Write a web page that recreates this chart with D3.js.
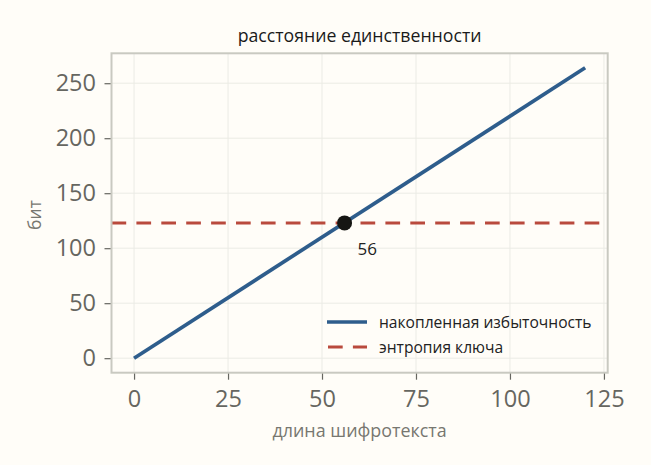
<!DOCTYPE html>
<html>
<head>
<meta charset="utf-8">
<script src="https://cdn.jsdelivr.net/npm/d3@7"></script>
<style>
  body { margin: 0; background: #fffdf8; }
  text { font-family: "Open Sans", "Noto Sans", sans-serif; }
</style>
</head>
<body>
<div id="chart"></div>
<script>
// data
const textLength = [0, 120];
const redundancyBits = [0, 264];
const keyEntropy = 123;
const unicityPoint = 56;
const xTicks = [0, 25, 50, 75, 100, 125];
const yTicks = [0, 50, 100, 150, 200, 250];
const legendLabels = ["накопленная избыточность", "энтропия ключа"];

const width = 651, height = 465;
const plot = {left: 111.5, right: 607.7, top: 53.3, bottom: 372.7};

const svg = d3.select("#chart")
    .append("svg")
    .attr("width", width)
    .attr("height", height);

svg.append("rect")
    .attr("width", width)
    .attr("height", height)
    .attr("fill", "#fffdf8");

const x = d3.scaleLinear().domain([-6, 126]).range([plot.left, plot.right]);
const y = d3.scaleLinear().domain([-13.2, 277.2]).range([plot.bottom, plot.top]);

// grid
svg.append("g").selectAll("line")
    .data(xTicks)
    .enter().append("line")
    .attr("x1", d => x(d)).attr("x2", d => x(d))
    .attr("y1", plot.top).attr("y2", plot.bottom)
    .attr("stroke", "#ebebe5").attr("stroke-width", 1);

svg.append("g").selectAll("line")
    .data(yTicks)
    .enter().append("line")
    .attr("y1", d => y(d)).attr("y2", d => y(d))
    .attr("x1", plot.left).attr("x2", plot.right)
    .attr("stroke", "#ebebe5").attr("stroke-width", 1);

// axes
const xAxis = svg.append("g")
    .attr("transform", "translate(0," + plot.bottom + ")")
    .call(d3.axisBottom(x).tickValues(xTicks).tickSize(7).tickPadding(4));

const yAxis = svg.append("g")
    .attr("transform", "translate(" + plot.left + ",0)")
    .call(d3.axisLeft(y).tickValues(yTicks).tickSize(7).tickPadding(8.5));

[xAxis, yAxis].forEach(a => {
    a.select(".domain").remove();
    a.selectAll(".tick line").attr("stroke", "#666660").attr("stroke-width", 1.2);
    a.selectAll(".tick text")
        .attr("fill", "#666660")
        .style("font-size", "23.5px")
        .style("font-family", "'Open Sans', sans-serif");
});
xAxis.selectAll(".tick text").attr("dy", "1.0em");

// key entropy, spans the whole axes width
svg.append("line")
    .attr("x1", x(x.domain()[0])).attr("x2", x(x.domain()[1]))
    .attr("y1", y(keyEntropy)).attr("y2", y(keyEntropy))
    .attr("stroke", "#b94a3d")
    .attr("stroke-width", 3)
    .attr("stroke-dasharray", "14.7,10.2");

// frame
svg.append("rect")
    .attr("x", plot.left).attr("y", plot.top)
    .attr("width", plot.right - plot.left)
    .attr("height", plot.bottom - plot.top)
    .attr("fill", "none")
    .attr("stroke", "#c9c9c1")
    .attr("stroke-width", 2);

// accumulated redundancy
const lineData = textLength.map((d, i) => [d, redundancyBits[i]]);
svg.append("path")
    .datum(lineData)
    .attr("fill", "none")
    .attr("stroke", "#2e5d8c")
    .attr("stroke-width", 3.7)
    .attr("d", d3.line().x(d => x(d[0])).y(d => y(d[1])));

// unicity distance
svg.append("circle")
    .attr("cx", x(unicityPoint))
    .attr("cy", y(keyEntropy))
    .attr("r", 7.5)
    .attr("fill", "#161613");

svg.append("text")
    .attr("x", x(unicityPoint) + 13)
    .attr("y", y(keyEntropy) + 32)
    .attr("fill", "#222")
    .style("font-size", "17px")
    .text(unicityPoint);

// legend
const legend = svg.append("g").attr("transform", "translate(327,322)");
legend.append("line")
    .attr("x1", 0).attr("x2", 40).attr("y1", 0).attr("y2", 0)
    .attr("stroke", "#2e5d8c").attr("stroke-width", 3.7);
legend.append("line")
    .attr("x1", 1).attr("x2", 40).attr("y1", 25).attr("y2", 25)
    .attr("stroke", "#b94a3d").attr("stroke-width", 3)
    .attr("stroke-dasharray", "14.7,10.2");
legend.selectAll("text")
    .data(legendLabels)
    .enter().append("text")
    .attr("x", 52)
    .attr("y", (d, i) => i * 25 + 6)
    .attr("fill", "#222")
    .style("font-size", "15.6px")
    .text(d => d);

// title and labels
svg.append("text")
    .attr("x", (plot.left + plot.right) / 2)
    .attr("y", 41.5)
    .attr("text-anchor", "middle")
    .attr("fill", "#1a1a1a")
    .style("font-size", "17.7px")
    .text("расстояние единственности");

svg.append("text")
    .attr("x", (plot.left + plot.right) / 2)
    .attr("y", 437)
    .attr("text-anchor", "middle")
    .attr("fill", "#777770")
    .style("font-size", "17.9px")
    .text("длина шифротекста");

svg.append("text")
    .attr("transform", "translate(40.5," + ((plot.top + plot.bottom) / 2 + 2) + ") rotate(-90)")
    .attr("text-anchor", "middle")
    .attr("fill", "#777770")
    .style("font-size", "17.5px")
    .text("бит");
</script>
</body>
</html>
